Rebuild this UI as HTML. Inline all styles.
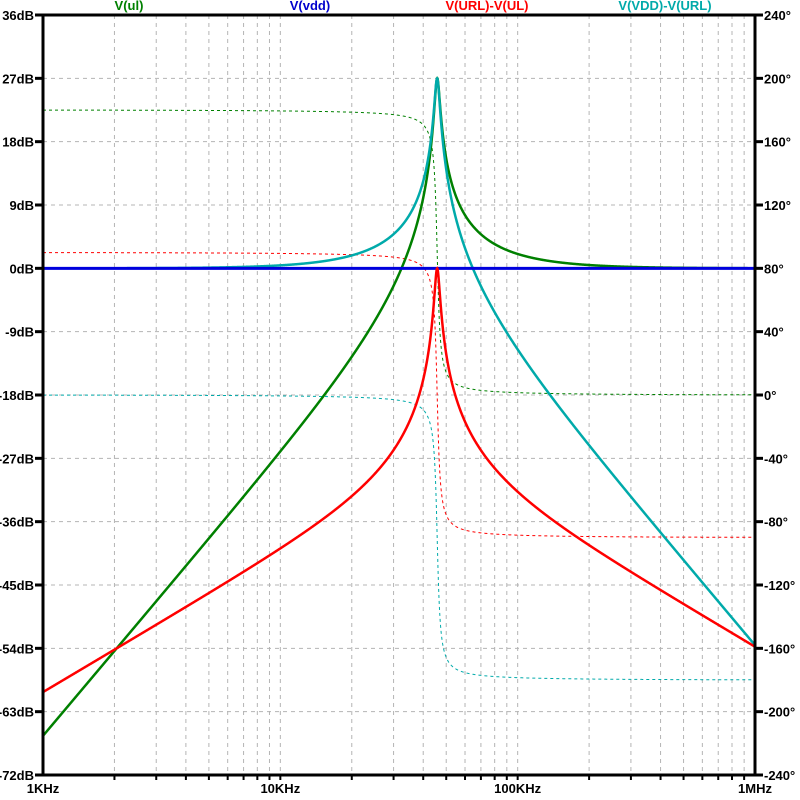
<!DOCTYPE html>
<html><head><meta charset="utf-8"><style>
html,body{margin:0;padding:0;background:#fff;}
svg{display:block;}
text{font-family:"Liberation Sans",sans-serif;font-weight:bold;font-size:13px;}
</style></head><body>
<svg id="s" width="800" height="800" xmlns="http://www.w3.org/2000/svg">
<rect width="800" height="800" fill="#fff"/>
<g id="grid" stroke="#b4b4b4" stroke-width="1" stroke-dasharray="4,4" fill="none"></g>
<g id="curves" fill="none"></g>
<g id="axes"></g>
<text x="129" y="10" fill="#008000" text-anchor="middle">V(ul)</text>
<text x="310" y="10" fill="#0000cc" text-anchor="middle">V(vdd)</text>
<text x="487" y="10" fill="#ff0000" text-anchor="middle">V(URL)-V(UL)</text>
<text x="665" y="10" fill="#00aaaa" text-anchor="middle">V(VDD)-V(URL)</text>
</svg>
<script>
var NS="http://www.w3.org/2000/svg";
var L=43,R=755,T=15,B=775,DEC=(R-L)/3;
function X(f){return L+(Math.log10(f)-3)*DEC;}
function Ydb(d){return T+(36-d)*(B-T)/108;}
function Yph(p){return T+(240-p)*(B-T)/480;}
function el(tag,attrs,parent,txt){var e=document.createElementNS(NS,tag);for(var k in attrs)e.setAttribute(k,attrs[k]);if(txt!==undefined)e.textContent=txt;parent.appendChild(e);return e;}
var grid=document.getElementById('grid'),axes=document.getElementById('axes'),cv=document.getElementById('curves');
var svg=document.getElementById('s');
// vertical grid
for(var d=3;d<6;d++){for(var m=1;m<10;m++){var f=m*Math.pow(10,d);var x=X(f);if(x<=L+1)continue;
 el('line',{x1:x,y1:T,x2:x,y2:B},grid);
 el('line',{x1:x,y1:B,x2:x,y2:B+5,stroke:'#000','stroke-width':(m==1?2:2)},axes);}}
// horizontal grid
for(var i=0;i<=12;i++){var db=36-9*i;var y=Ydb(db);
 if(i>0&&i<12)el('line',{x1:L,y1:y,x2:R,y2:y},grid);
 el('line',{x1:35,y1:y,x2:L,y2:y,stroke:'#000','stroke-width':3},axes);
 el('text',{x:34,y:y+5,'text-anchor':'end',fill:'#000'},axes,db+'dB');
 var ph=240-40*i;
 el('line',{x1:R,y1:y,x2:763,y2:y,stroke:'#000','stroke-width':3},axes);
 el('text',{x:764,y:y+5,fill:'#000'},axes,ph+'°');}
el('rect',{x:L,y:T,width:R-L,height:B-T,fill:'none',stroke:'#000','stroke-width':3},axes);
var xl=[['1KHz',1e3],['10KHz',1e4],['100KHz',1e5],['1MHz',1e6]];
xl.forEach(function(a){el('text',{x:X(a[1]),y:793,'text-anchor':'middle',fill:'#000'},axes,a[0]);});
// model
var f0=45800,Q=22.4;
function resp(f,type){var w=f/f0;var dr=1-w*w,di=w/Q;var nr,ni;
 if(type=='lp'){nr=1;ni=0;}else if(type=='hp'){nr=w*w;ni=0;}else{nr=0;ni=w/Q;}
 var den=dr*dr+di*di;var hr=(nr*dr+ni*di)/den,hi=(ni*dr-nr*di)/den;
 return [20*Math.log10(Math.sqrt(hr*hr+hi*hi)),Math.atan2(hi,hr)*180/Math.PI];}
function phCont(type,f){var w=f/f0;var ph=-Math.atan2(w/Q,1-w*w)*180/Math.PI; // 0 -> -180
 if(type=='lp')return ph; if(type=='hp')return ph+180; return ph+90;}
function path(type,which){var s='';var N=3000;for(var k=0;k<=N;k++){var f=Math.pow(10,3+3*k/N);var r=resp(f,type);
 var y=which=='m'?Ydb(r[0]):Yph(phCont(type,f));s+=(k?'L':'M')+X(f).toFixed(2)+' '+y.toFixed(2);}return s;}
var G='#008000',C='#00aaaa',Bl='#0000dd',Rd='#ff0000';
// phases (dashed thin)
el('path',{d:path('hp','p'),stroke:G,'stroke-width':1,'stroke-dasharray':'3,3'},cv);
el('path',{d:path('bp','p'),stroke:Rd,'stroke-width':1,'stroke-dasharray':'3,3'},cv);
el('path',{d:path('lp','p'),stroke:C,'stroke-width':1,'stroke-dasharray':'3,3'},cv);
// magnitudes
el('path',{d:path('hp','m'),stroke:G,'stroke-width':2.5},cv);
el('path',{d:path('lp','m'),stroke:C,'stroke-width':2.5},cv);
el('line',{x1:L,y1:Ydb(0),x2:R,y2:Ydb(0),stroke:Bl,'stroke-width':3},cv);
el('path',{d:path('bp','m'),stroke:Rd,'stroke-width':2.5},cv);
</script>
</body></html>
